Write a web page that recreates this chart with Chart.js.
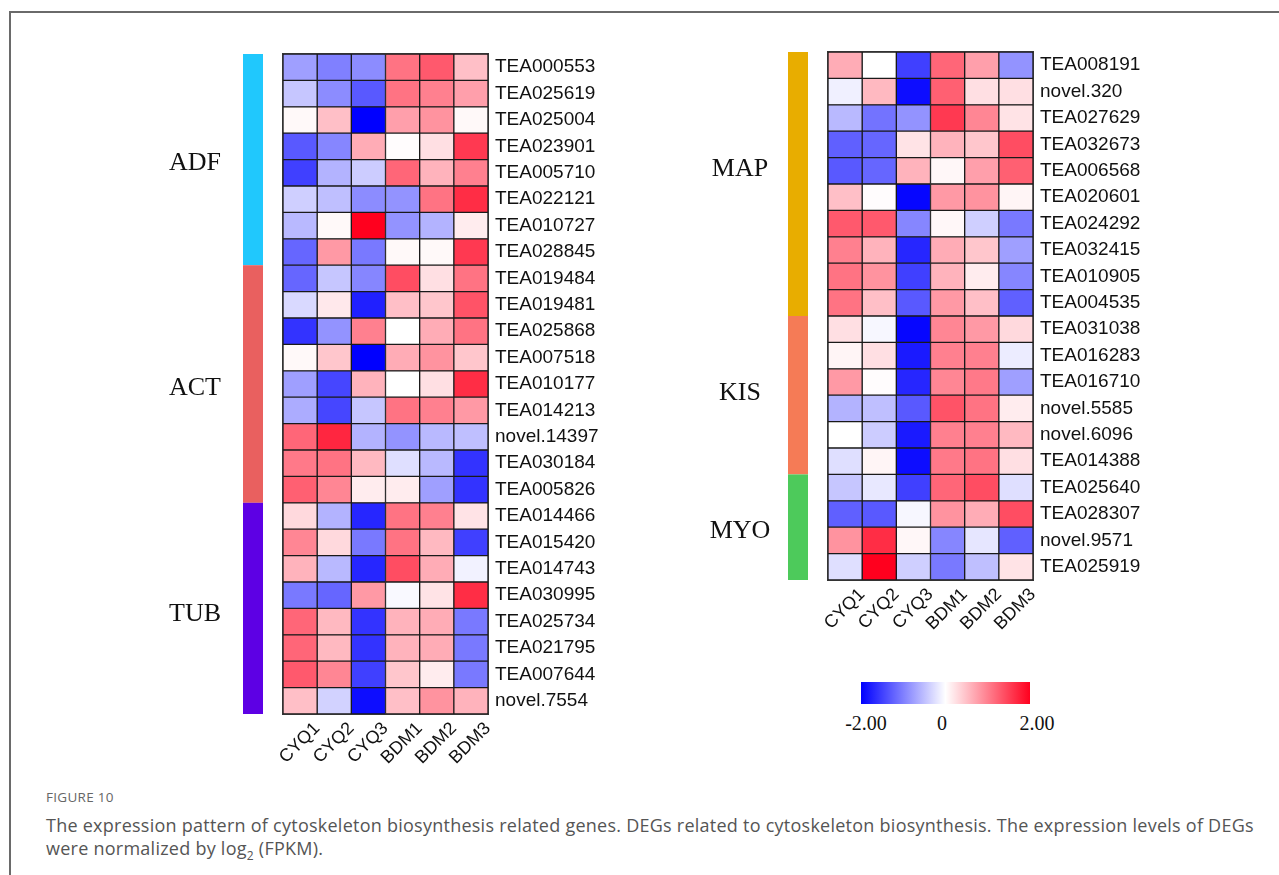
<!DOCTYPE html>
<html lang="en">

<head>
    <meta charset="UTF-8">
    <title>Figure 10</title>
    <script src="https://cdn.jsdelivr.net/npm/chart.js"></script>
    <style>
        body { margin: 0; background: #fff; width: 1279px; height: 875px; overflow: hidden; position: relative; }
        #frame { position: absolute; left: 9px; top: 11px; width: 1290px; height: 880px; border-top: 2px solid #6a6a6a; border-left: 2px solid #6a6a6a; }
        .panel { position: absolute; }
        #leftBox { left: 150px; top: 40px; width: 458px; height: 734px; }
        #rightBox { left: 700px; top: 38px; width: 453px; height: 602px; }
        #colorBar { position: absolute; left: 861px; top: 682px; width: 169px; height: 22px;
            background: linear-gradient(to right, #0000ff, #ffffff 50%, #ff001e); }
        .barLabel { position: absolute; top: 712px; font: 20px "Liberation Serif", "Times New Roman", serif; color: #111; transform: translateX(-50%); }
        #figNo { position: absolute; left: 46px; top: 788px; font: 13.5px "Open Sans", sans-serif; color: #666; letter-spacing: 0.3px; }
        #caption { position: absolute; left: 46px; top: 814px; font: 18px "Open Sans", sans-serif; line-height: 23px; letter-spacing: 0.25px; color: #555; white-space: nowrap; }
    </style>
</head>

<body>
    <div id="frame"></div>
    <div class="panel" id="leftBox"><canvas id="leftChart"></canvas></div>
    <div class="panel" id="rightBox"><canvas id="rightChart"></canvas></div>

    <!-- colour key -->
    <div id="colorBar"></div>
    <div class="barLabel" style="left:866px">-2.00</div>
    <div class="barLabel" style="left:942px">0</div>
    <div class="barLabel" style="left:1037px">2.00</div>

    <div id="figNo">FIGURE 10</div>
    <div id="caption">The expression pattern of cytoskeleton biosynthesis related genes. DEGs related to cytoskeleton biosynthesis. The expression levels of DEGs<br>were normalized by log<sub style="font-size:12px">2</sub> (FPKM).</div>

    <script>
        // samples (columns)
        const samples = ['CYQ1', 'CYQ2', 'CYQ3', 'BDM1', 'BDM2', 'BDM3'];

        // left panel
        const leftGenes = ['TEA000553', 'TEA025619', 'TEA025004', 'TEA023901', 'TEA005710', 'TEA022121', 'TEA010727', 'TEA028845',
            'TEA019484', 'TEA019481', 'TEA025868', 'TEA007518', 'TEA010177', 'TEA014213', 'novel.14397', 'TEA030184', 'TEA005826',
            'TEA014466', 'TEA015420', 'TEA014743', 'TEA030995', 'TEA025734', 'TEA021795', 'TEA007644', 'novel.7554'];
        const leftGroups = ['ADF', 'ACT', 'TUB'];
        const leftGroupSizes = [8, 9, 8];
        const leftValues = [
            [-0.75, -1.0, -0.9, 1.1, 1.3, 0.5],
            [-0.45, -0.9, -1.3, 1.1, 1.0, 0.75],
            [0.05, 0.5, -2.0, 0.75, 0.85, 0.05],
            [-1.3, -0.95, 0.65, 0.02, 0.25, 1.55],
            [-1.5, -0.6, -0.4, 1.2, 0.6, 1.0],
            [-0.38, -0.5, -0.9, -0.85, 1.1, 1.65],
            [-0.55, 0.05, 2.0, -0.85, -0.6, 0.15],
            [-1.2, 0.8, -1.05, 0.05, 0.05, 1.55],
            [-1.2, -0.45, -0.95, 1.4, 0.25, 1.1],
            [-0.3, 0.18, -1.75, 0.5, 0.45, 1.35],
            [-1.6, -0.85, 1.0, 0.0, 0.65, 1.1],
            [0.05, 0.45, -2.0, 0.65, 0.85, 0.45],
            [-0.75, -1.45, 0.6, 0.0, 0.25, 1.65],
            [-0.65, -1.45, -0.45, 1.1, 1.0, 0.8],
            [1.2, 1.7, -0.6, -0.85, -0.55, -0.5],
            [1.05, 1.1, 0.55, -0.25, -0.55, -1.6],
            [1.25, 0.95, 0.15, 0.15, -0.75, -1.6],
            [0.3, -0.6, -1.7, 1.1, 1.0, 0.22],
            [0.95, 0.3, -1.05, 1.1, 0.55, -1.5],
            [0.6, -0.55, -1.7, 1.4, 0.65, -0.1],
            [-1.05, -1.2, 0.8, -0.05, 0.22, 1.65],
            [1.2, 0.55, -1.6, 0.6, 0.65, -1.05],
            [1.2, 0.55, -1.6, 0.6, 0.65, -1.05],
            [1.3, 0.95, -1.5, 0.45, 0.15, -1.05],
            [0.5, -0.35, -1.9, 0.5, 0.85, 0.6]
        ];

        // right panel
        const rightGenes = ['TEA008191', 'novel.320', 'TEA027629', 'TEA032673', 'TEA006568', 'TEA020601', 'TEA024292', 'TEA032415',
            'TEA010905', 'TEA004535', 'TEA031038', 'TEA016283', 'TEA016710', 'novel.5585', 'novel.6096', 'TEA014388',
            'TEA025640', 'TEA028307', 'novel.9571', 'TEA025919'];
        const rightGroups = ['MAP', 'KIS', 'MYO'];
        const rightGroupSizes = [10, 6, 4];
        const rightValues = [
            [0.65, 0.0, -1.5, 1.2, 0.75, -0.85],
            [-0.12, 0.55, -1.9, 1.25, 0.25, 0.25],
            [-0.55, -1.1, -0.85, 1.55, 0.95, 0.22],
            [-1.25, -1.2, 0.22, 0.6, 0.45, 1.4],
            [-1.3, -1.2, 0.6, 0.06, 0.75, 1.25],
            [0.5, 0.02, -1.95, 0.8, 0.85, 0.08],
            [1.3, 1.3, -0.95, 0.06, -0.38, -1.05],
            [1.0, 0.6, -1.7, 0.65, 0.45, -0.75],
            [1.1, 0.85, -1.5, 0.6, 0.15, -0.95],
            [1.1, 0.5, -1.3, 0.8, 0.5, -1.25],
            [0.25, -0.06, -1.95, 0.95, 0.8, 0.3],
            [0.08, 0.25, -1.8, 1.0, 1.0, -0.15],
            [0.8, 0.02, -1.7, 0.95, 1.05, -0.75],
            [-0.6, -0.5, -1.3, 1.35, 1.1, 0.15],
            [0.0, -0.4, -1.8, 1.0, 1.0, 0.55],
            [-0.25, 0.08, -1.9, 1.05, 1.1, 0.25],
            [-0.45, -0.18, -1.5, 1.2, 1.4, -0.25],
            [-1.25, -1.3, -0.06, 0.85, 0.65, 1.4],
            [0.85, 1.65, 0.06, -0.95, -0.2, -1.25],
            [-0.25, 2.0, -0.38, -1.05, -0.5, 0.22]
        ];

        // styles
        const groupColors = { ADF: '#20c8fd', ACT: '#e9605f', TUB: '#5d00e4', MAP: '#e8ad00', KIS: '#f57b56', MYO: '#4dca5b' };
        const labelNudge = { ADF: 4, ACT: 4, TUB: 6, MAP: -15, KIS: -2, MYO: 4 };
        const sansFont = '"Liberation Sans", Arial, sans-serif';

        // value -> blue / white / red
        function colorFor(v) {
            const t = Math.min(Math.abs(v) / 2, 1);
            const end = v < 0 ? [0, 0, 255] : [255, 0, 30];
            const c = end.map(e => Math.round(255 + (e - 255) * t));
            return `rgb(${c[0]}, ${c[1]}, ${c[2]})`;
        }

        // group bar + group name on the left of each grid
        const groupBars = {
            id: 'groupBars',
            afterDraw(chart, args, opts) {
                const { ctx, chartArea, scales: { y } } = chart;
                const band = (chartArea.bottom - chartArea.top) / y.getLabels().length;
                let start = 0;
                ctx.save();
                opts.names.forEach((name, k) => {
                    const size = opts.sizes[k];
                    const top = y.getPixelForValue(start) - band / 2;
                    const bottom = y.getPixelForValue(start + size - 1) + band / 2;
                    ctx.fillStyle = groupColors[name];
                    ctx.fillRect(chartArea.left - 40, top, 20, bottom - top);
                    ctx.fillStyle = '#111';
                    ctx.font = '26px "Liberation Serif", "Times New Roman", serif';
                    ctx.textAlign = 'center';
                    ctx.textBaseline = 'middle';
                    ctx.fillText(name, chartArea.left - 88, (top + bottom) / 2 + (labelNudge[name] || 0));
                    start += size;
                });
                // outer edge of the grid
                ctx.strokeStyle = '#333';
                ctx.lineWidth = 1;
                ctx.strokeRect(chartArea.left - 0.5, chartArea.top - 0.5, chartArea.right - chartArea.left + 1, chartArea.bottom - chartArea.top + 1);
                ctx.restore();
            }
        };

        // heatmap from floating horizontal bars
        function makeHeatmap(canvasId, genes, values, groups, sizes, padLeft) {
            const datasets = samples.map((s, j) => ({
                label: s,
                data: genes.map(() => [j - 0.5, j + 0.5]),
                backgroundColor: genes.map((g, i) => colorFor(values[i][j])),
                borderColor: '#1a1a1a',
                borderWidth: 1,
                borderSkipped: false,
                grouped: false,
                barPercentage: 1,
                categoryPercentage: 1,
            }));

            return new Chart(document.getElementById(canvasId), {
                type: 'bar',
                data: { labels: genes, datasets: datasets },
                plugins: [groupBars],
                options: {
                    indexAxis: 'y',
                    animation: false,
                    responsive: true,
                    maintainAspectRatio: false,
                    layout: { padding: { top: 14, left: padLeft, right: 0, bottom: 0 } },
                    plugins: {
                        legend: { display: false },
                        tooltip: { enabled: false },
                        groupBars: { names: groups, sizes: sizes },
                    },
                    scales: {
                        x: {
                            type: 'linear',
                            position: 'bottom',
                            min: -0.5,
                            max: 5.5,
                            grid: { display: false, drawTicks: false },
                            border: { display: false },
                            afterBuildTicks: s => { s.ticks = samples.map((_, j) => ({ value: j })); },
                            afterFit: s => { s.height = 60; s.paddingLeft = 0; s.paddingRight = 0; },
                            ticks: {
                                autoSkip: false,
                                maxRotation: 45,
                                minRotation: 45,
                                padding: 4,
                                labelOffset: 17,
                                color: '#111',
                                font: { family: sansFont, size: 18 },
                                callback: v => samples[v],
                            },
                        },
                        y: {
                            type: 'category',
                            position: 'right',
                            grid: { display: false, drawTicks: false },
                            border: { display: false },
                            afterFit: s => { s.width = 120; s.paddingTop = 0; s.paddingBottom = 0; },
                            ticks: {
                                autoSkip: false,
                                padding: 7,
                                color: '#111',
                                font: { family: sansFont, size: 19 },
                            },
                        },
                    },
                },
            });
        }

        makeHeatmap('leftChart', leftGenes, leftValues, leftGroups, leftGroupSizes, 133);
        makeHeatmap('rightChart', rightGenes, rightValues, rightGroups, rightGroupSizes, 128);
    </script>
</body>

</html>
